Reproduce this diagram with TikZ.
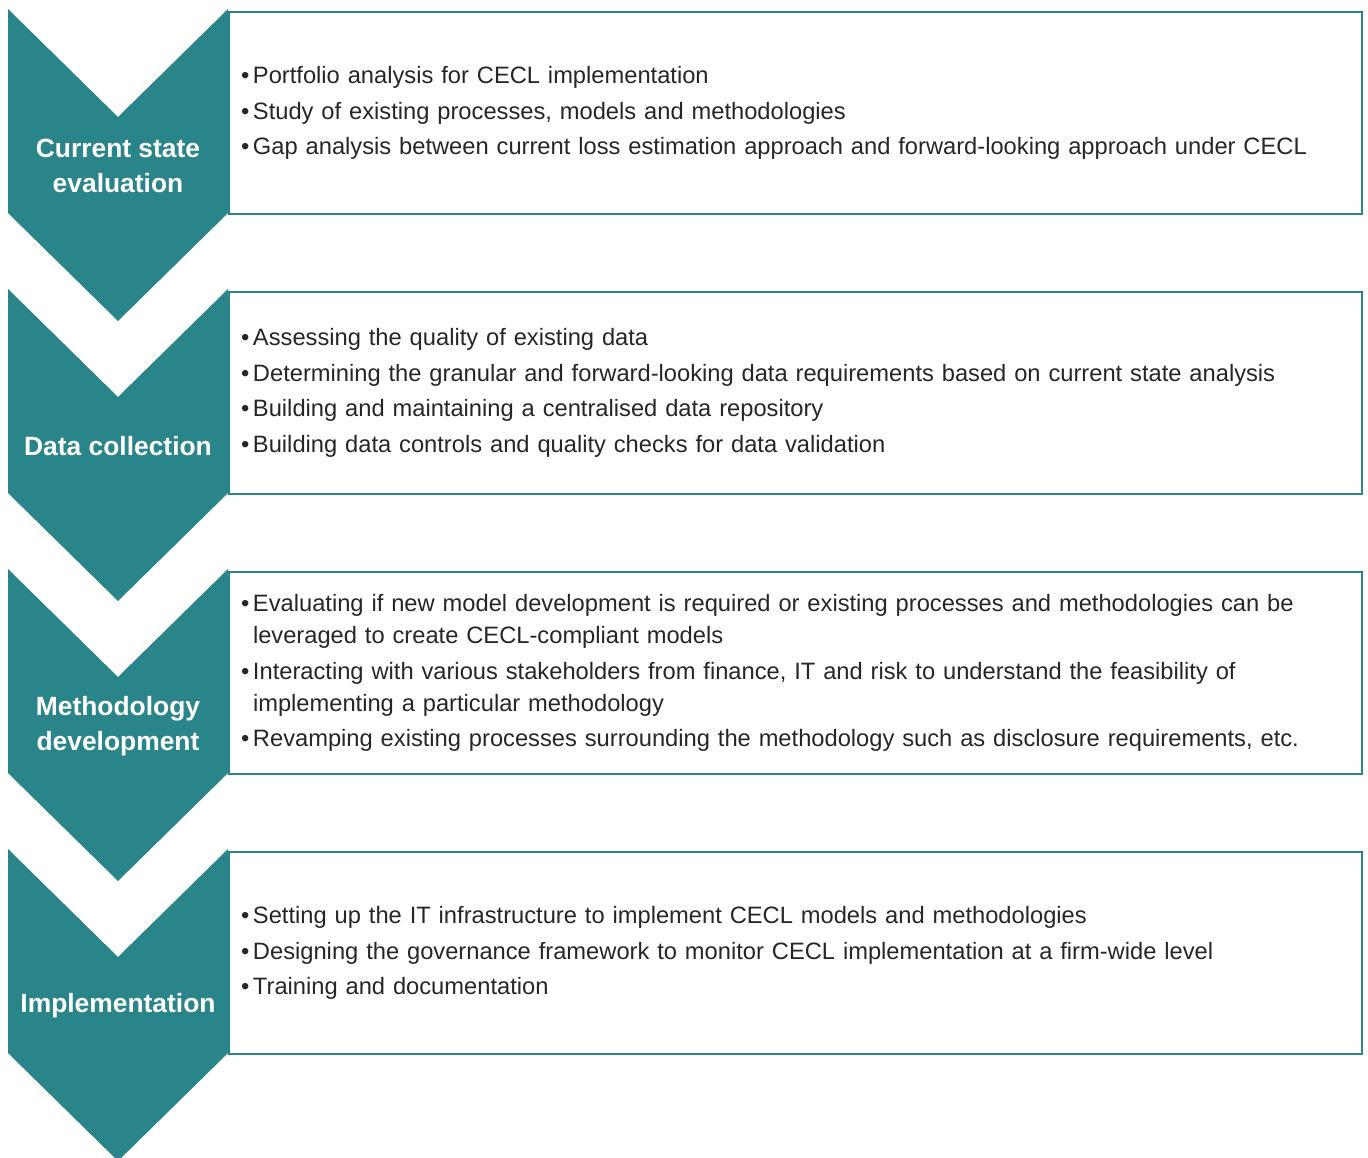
\documentclass[tikz,border=0pt]{standalone}
\usepackage{fontspec}
\setmainfont{Liberation Sans}
\usetikzlibrary{positioning}
\definecolor{cecl}{RGB}{41,133,137}
\definecolor{bodytext}{RGB}{38,38,38}
\newcommand{\itm}[1]{\makebox[12pt][l]{\textbullet}#1}
\begin{document}
\begin{tikzpicture}[x=1pt,y=-1pt,
    stage/.style={fill=cecl},
    stagelabel/.style={text=white,font=\fontsize{26.4}{35}\selectfont\bfseries,align=center},
    detailbox/.style={draw=cecl,line width=2pt,anchor=north west,minimum width=1133pt,
        minimum height=202pt,inner xsep=12pt,text width=1109pt,align=left,
        text=bodytext,font=\fontsize{23.7}{32}\selectfont}]
    \def\gap{280}
    \useasboundingbox (0,0) rectangle (1368,1157);
        % detail boxes
        \node[detailbox] (box1) at (228,11) {\itm{Portfolio analysis for CECL implementation}\\[3.5pt]
              \itm{Study of existing processes, models and methodologies}\\[3.5pt]
              \itm{Gap analysis between current loss estimation approach and forward-looking approach under CECL}};
        \node[detailbox] (box2) at (228,11+\gap) {\itm{Assessing the quality of existing data}\\[3.5pt]
              \itm{Determining the granular and forward-looking data requirements based on current state analysis}\\[3.5pt]
              \itm{Building and maintaining a centralised data repository}\\[3.5pt]
              \itm{Building data controls and quality checks for data validation}};
        \node[detailbox] (box3) at (228,11+2*\gap) {\itm{Evaluating if new model development is required or existing processes and methodologies can be}\\
              \hspace*{12pt}leveraged to create CECL-compliant models\\[3.5pt]
              \itm{Interacting with various stakeholders from finance, IT and risk to understand the feasibility of}\\
              \hspace*{12pt}implementing a particular methodology\\[3.5pt]
              \itm{Revamping existing processes surrounding the methodology such as disclosure requirements, etc.}};
        \node[detailbox] (box4) at (228,11+3*\gap) {\itm{Setting up the IT infrastructure to implement CECL models and methodologies}\\[3.5pt]
              \itm{Designing the governance framework to monitor CECL implementation at a firm-wide level}\\[3.5pt]
              \itm{Training and documentation}};
        % chevrons
        \fill[stage] (8,9) -- (118,117) -- (228,9) -- (228,213) -- (118,321) -- (8,213) -- cycle;
        \fill[stage] (8,9+\gap) -- (118,117+\gap) -- (228,9+\gap) -- (228,213+\gap) -- (118,321+\gap) -- (8,213+\gap) -- cycle;
        \fill[stage] (8,9+2*\gap) -- (118,117+2*\gap) -- (228,9+2*\gap) -- (228,213+2*\gap) -- (118,321+2*\gap) -- (8,213+2*\gap) -- cycle;
        \fill[stage] (8,9+3*\gap) -- (118,117+3*\gap) -- (228,9+3*\gap) -- (228,213+3*\gap) -- (118,321+3*\gap) -- (8,213+3*\gap) -- cycle;
        \node[stagelabel] (stage1) at (118,166) {Current state\\evaluation};
        \node[stagelabel] (stage2) at (118,166+\gap) {Data collection};
        \node[stagelabel] (stage3) at (118,166+2*\gap) {Methodology\\development};
        \node[stagelabel] (stage4) at (118,166+3*\gap) {Implementation};
\end{tikzpicture}
\end{document}
